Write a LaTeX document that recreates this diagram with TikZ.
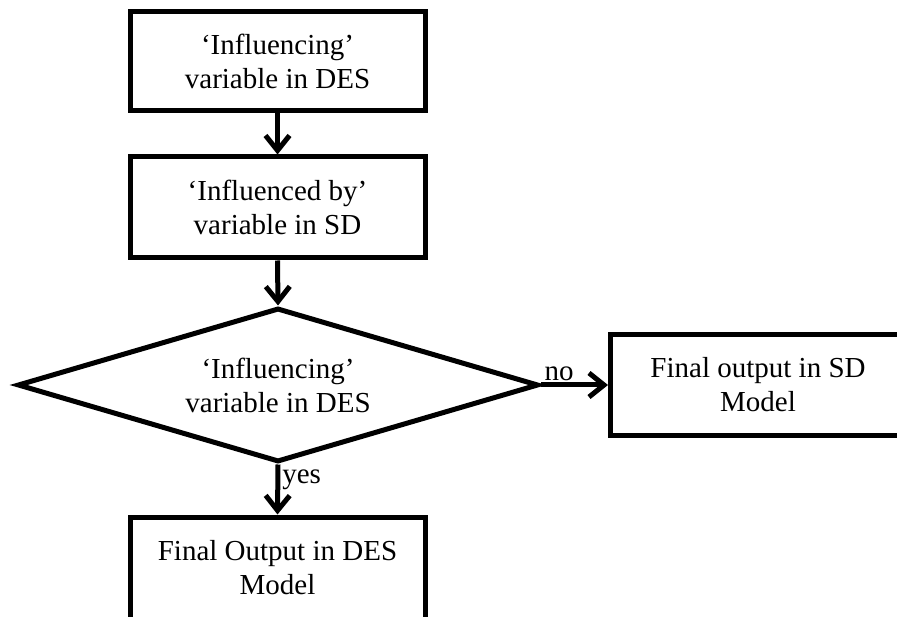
\documentclass[tikz,border=0pt]{standalone}
\usepackage{fontspec}
\setmainfont{Liberation Serif}
\usepackage{tikz}
\usetikzlibrary{positioning,shapes.geometric,arrows.meta}
\tikzset{
  flowbox/.style={draw=black, line width=5pt, fill=white, minimum width=295pt, minimum height=99pt, align=center, font=\fontsize{29}{34}\selectfont},
  decision/.style={draw=black, line width=5pt, diamond, aspect=3.4, inner sep=0pt, minimum width=521pt, minimum height=154pt, align=center, font=\fontsize{29}{34}\selectfont},
  flowarrow/.style={-{Straight Barb[length=15pt,width=24pt]}, line width=5pt},
  flowlabel/.style={font=\fontsize{29}{34}\selectfont, inner sep=2pt}
}

\begin{document}
\begin{tikzpicture}[x=1pt,y=-1pt]
\useasboundingbox (0,0) rectangle (897,617);

\node[flowbox] (influencing) at (277.5,61) {‘Influencing’\\ variable in DES};
\node[flowbox, minimum height=101pt] (influenced) at (277.5,207.5) {‘Influenced by’\\ variable in SD};
\node[decision] (check) at (278,385) {‘Influencing’\\ variable in DES};
\node[flowbox, minimum height=101pt] (sdout) at (758,385) {Final output in SD\\ Model};
\node[flowbox, minimum height=102pt] (desout) at (277.5,568) {Final Output in DES\\ Model};

\draw[flowarrow] (influencing.south) -- (influenced.north);
\draw[flowarrow] (influenced.south) -- (check.north);
\draw[flowarrow] (check.east) -- node[flowlabel, pos=0.27, anchor=south] {no} (sdout.west);
\draw[flowarrow] (check.south) -- node[flowlabel, pos=0.3, anchor=west] {yes} (desout.north);
\end{tikzpicture}
\end{document}
